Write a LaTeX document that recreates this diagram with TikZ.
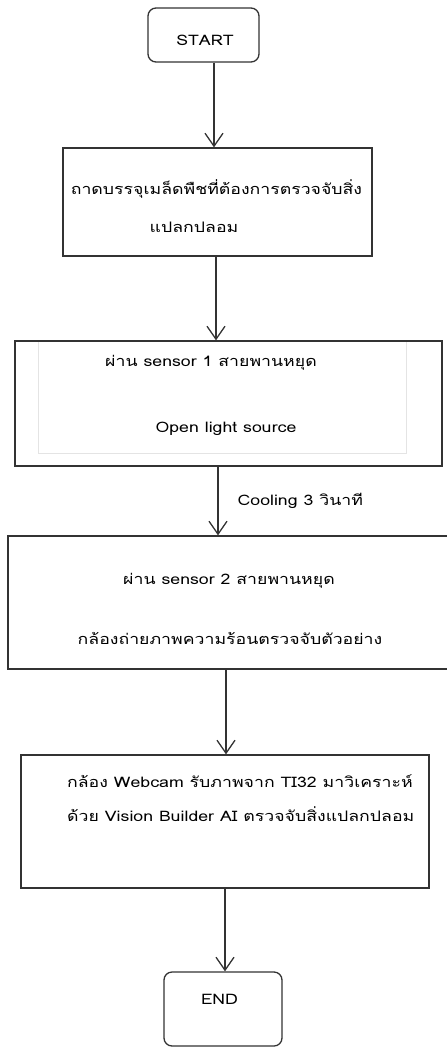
\documentclass[tikz,border=0pt]{standalone}
\usepackage{fontspec}
\setmainfont[Script=Thai,FakeStretch=1.22]{Loma}
\usetikzlibrary{arrows.meta}
\definecolor{linec}{HTML}{333333}
\definecolor{innerc}{HTML}{E4E4E4}
\tikzset{
  box/.style={draw=linec, line width=1.3bp, rectangle, inner sep=0pt},
  term/.style={box, rounded corners=8bp},
  txt/.style={inner sep=0pt, anchor=mid, yshift=-2bp, font=\fontsize{14.5bp}{16bp}\selectfont, text=black},
  txtl/.style={txt, anchor=mid west},
  arr/.style={draw=linec, line width=1.3bp, -{Straight Barb[length=13bp,width=18bp,line width=1.3bp]}}
}
\begin{document}
\begin{tikzpicture}[x=1bp,y=-1bp]
\useasboundingbox (0,0) rectangle (447,1048);
% boxes
\node[term, minimum width=111bp, minimum height=54bp] (start) at (203.5,35) {};
\node[box, minimum width=309bp, minimum height=108bp] (b2) at (217.5,202) {};
\draw[innerc, line width=1bp] (38,341) -- (38,453) -- (406,453) -- (406,341);
\node[box, minimum width=427bp, minimum height=125bp] (b3) at (228.5,403.5) {};
\node[box, minimum width=440bp, minimum height=133bp] (b4) at (228,602.5) {};
\node[box, minimum width=408bp, minimum height=133bp] (b5) at (225,821.5) {};
\node[term, minimum width=118bp, minimum height=74bp] (end) at (223,1009) {};
% texts
\node[txt] (tstart) at (205,41) {START};
\node[txt] (t2a) at (216.5,190) {ถาดบรรจุเมล็ดพืชที่ต้องการตรวจจับสิ่ง};
\node[txt] (t2b) at (194,228) {แปลกปลอม};
\node[txt] (t3a) at (211,362) {ผ่าน sensor 1 สายพานหยุด};
\node[txt] (t3b) at (226,428) {Open light source};
\node[txt] (t4a) at (229,580) {ผ่าน sensor 2 สายพานหยุด};
\node[txt] (t4b) at (230,640) {กล้องถ่ายภาพความร้อนตรวจจับตัวอย่าง};
\node[txtl] (t5a) at (67,783) {กล้อง Webcam รับภาพจาก TI32 มาวิเคราะห์};
\node[txtl] (t5b) at (67,817) {ด้วย Vision Builder AI ตรวจจับสิ่งแปลกปลอม};
\node[txt] (tend) at (219.5,1000) {END};
% arrow columns
\coordinate (a1) at (214,0);
\coordinate (a2) at (216,0);
\coordinate (a3) at (218,0);
\coordinate (a4) at (226,0);
\coordinate (a5) at (225,0);
\draw[arr] (start.south -| a1) -- (b2.north -| a1);
\draw[arr] (b2.south -| a2) -- (b3.north -| a2);
\draw[arr] (b3.south -| a3) -- node[txt, anchor=mid west, xshift=19bp] (cool) {Cooling 3 วินาที} (b4.north -| a3);
\draw[arr] (b4.south -| a4) -- (b5.north -| a4);
\draw[arr] (b5.south -| a5) -- (end.north -| a5);
\end{tikzpicture}
\end{document}
